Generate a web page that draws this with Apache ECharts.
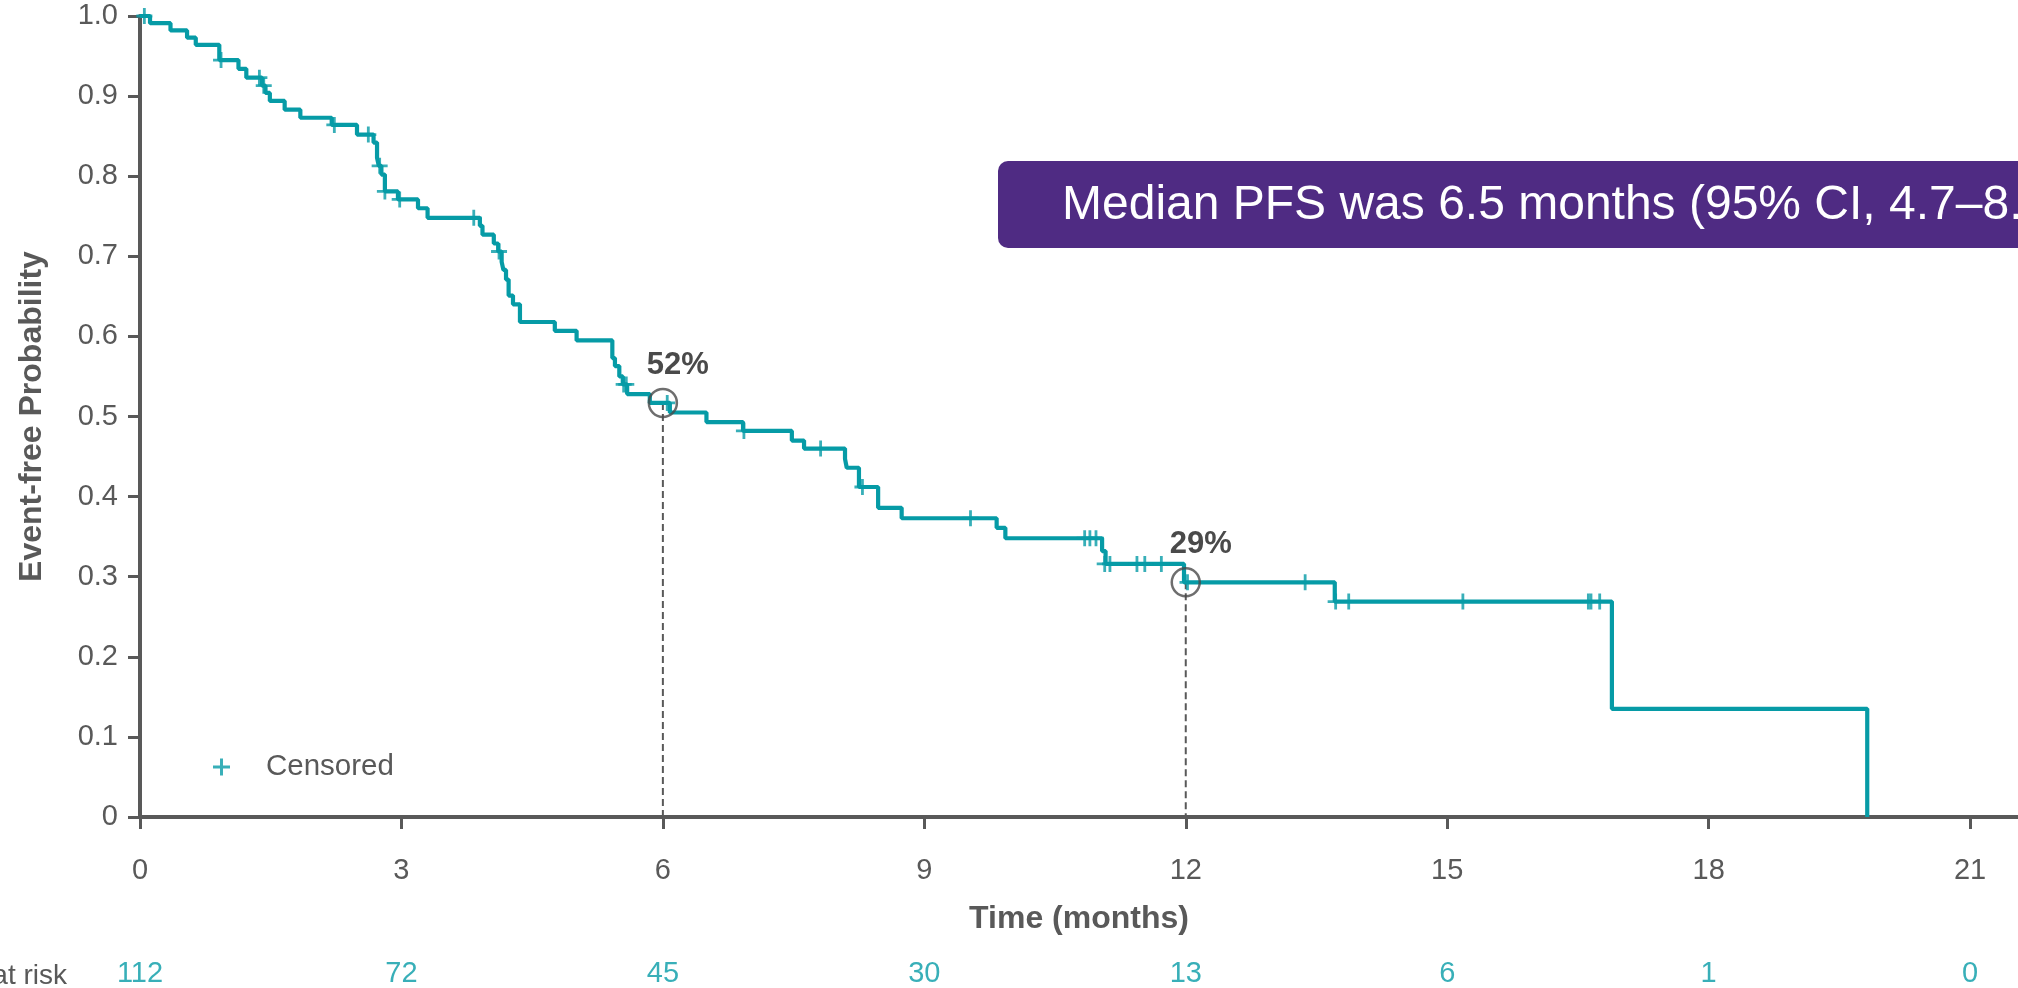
<!DOCTYPE html>
<html><head><meta charset="utf-8">
<script src="https://cdn.jsdelivr.net/npm/echarts@6/dist/echarts.min.js"></script>
<style>html,body{margin:0;padding:0;background:#fff}#c{width:2018px;height:988px}</style>
</head><body><div id="c"></div>
<script>
// Kaplan-Meier step points: time (months) and survival after the step
const eventTimes = [0, 0.115, 0.35, 0.54, 0.64, 0.91, 1.13, 1.22, 1.40, 1.44, 1.49, 1.66, 1.84, 2.20, 2.49, 2.68, 2.72, 2.74, 2.77, 2.81, 2.96, 3.19, 3.30, 3.90, 3.93, 4.06, 4.11, 4.15, 4.17, 4.20, 4.23, 4.28, 4.36, 4.76, 5.01, 5.42, 5.45, 5.50, 5.54, 5.59, 5.85, 6.08, 6.50, 6.92, 7.48, 7.62, 8.09, 8.11, 8.25, 8.47, 8.74, 9.83, 9.93, 11.04, 11.08, 11.98, 13.71, 16.89, 19.82];
const survival   = [1.0, 0.991, 0.982, 0.973, 0.964, 0.945, 0.934, 0.923, 0.913, 0.904, 0.894, 0.883, 0.873, 0.864, 0.852, 0.842, 0.823, 0.813, 0.802, 0.781, 0.771, 0.760, 0.748, 0.738, 0.727, 0.716, 0.706, 0.693, 0.683, 0.671, 0.651, 0.640, 0.618, 0.607, 0.595, 0.573, 0.563, 0.550, 0.540, 0.528, 0.517, 0.505, 0.493, 0.482, 0.470, 0.460, 0.447, 0.436, 0.412, 0.386, 0.373, 0.361, 0.348, 0.332, 0.316, 0.293, 0.269, 0.135, 0];
// Censored observations
const censorTimes = [0.05, 0.93, 1.37, 1.42, 2.23, 2.62, 2.75, 2.81, 2.98, 3.83, 4.12, 5.55, 5.58, 6.05, 6.93, 7.81, 8.29, 9.53, 10.84, 10.90, 10.97, 11.07, 11.13, 11.44, 11.53, 11.72, 12.02, 13.37, 13.72, 13.87, 15.18, 16.62, 16.65, 16.75];
const censorSurv  = [1.0, 0.945, 0.923, 0.913, 0.864, 0.852, 0.813, 0.781, 0.771, 0.748, 0.706, 0.540, 0.540, 0.517, 0.482, 0.460, 0.412, 0.373, 0.348, 0.348, 0.348, 0.316, 0.316, 0.316, 0.316, 0.316, 0.293, 0.293, 0.269, 0.269, 0.269, 0.269, 0.269, 0.269];
// Landmarks
const landmarkTimes = [6, 12];
const landmarkSurv = [0.517, 0.293];
const landmarkLabels = ['52%', '29%'];
// Axes
const xTicks = [0, 3, 6, 9, 12, 15, 18, 21];
const yTicks = [0, 0.1, 0.2, 0.3, 0.4, 0.5, 0.6, 0.7, 0.8, 0.9, 1.0];
const atRisk = [112, 72, 45, 30, 13, 6, 1, 0];

const TEAL = '#069ba6', GRAY = '#595959', PURPLE = '#4f2b83';
const FONT = '"Liberation Sans", Arial, sans-serif';
const PLUS = 'path://M-1.4,-8H1.4V-1.4H8V1.4H1.4V8H-1.4V1.4H-8V-1.4H-1.4Z';
const XMAX = 21.55;

const kmData = eventTimes.map((t, i) => [t, survival[i]]);
const censorData = censorTimes.map((t, i) => [t, censorSurv[i]]);

const dashSeries = landmarkTimes.map((t, i) => ({
  type: 'line', xAxisIndex: 0, yAxisIndex: 0, z: 1,
  data: [[t, landmarkSurv[i]], [t, 0]], showSymbol: false, silent: true,
  lineStyle: { color: GRAY, width: 2, type: [7, 4] }
}));

const chart = echarts.init(document.getElementById('c'), null, { renderer: 'canvas' });
chart.setOption({
  animation: false,
  backgroundColor: '#fff',
  textStyle: { fontFamily: FONT },
  grid: [
    { left: 140, right: 0, top: 16, bottom: 171, containLabel: false },
    { left: 140, right: 0, top: 959, height: 48, containLabel: false }
  ],
  xAxis: [{
    type: 'value', gridIndex: 0, min: 0, max: XMAX,
    axisLine: { show: true, onZero: false, lineStyle: { color: GRAY, width: 4 } },
    axisTick: { show: true, length: 12, customValues: xTicks, lineStyle: { color: GRAY, width: 3 } },
    axisLabel: { customValues: xTicks, color: GRAY, fontSize: 29, margin: 39, fontFamily: FONT },
    splitLine: { show: false },
    name: 'Time (months)', nameLocation: 'middle', nameGap: 86,
    nameTextStyle: { color: GRAY, fontSize: 32, fontWeight: 'bold', fontFamily: FONT }
  }, {
    type: 'value', gridIndex: 1, min: 0, max: XMAX, show: false
  }],
  yAxis: [{
    type: 'value', gridIndex: 0, min: 0, max: 1, interval: 0.1,
    axisLine: { show: true, lineStyle: { color: GRAY, width: 4 } },
    axisTick: { show: true, length: 12, lineStyle: { color: GRAY, width: 3 } },
    axisLabel: { color: GRAY, fontSize: 29, margin: 22, fontFamily: FONT,
      formatter: v => (Math.abs(v) < 1e-9 ? '0' : v.toFixed(1)) },
    splitLine: { show: false },
    name: 'Event-free Probability', nameLocation: 'middle', nameGap: 92, nameRotate: 90,
    nameTextStyle: { color: GRAY, fontSize: 32, fontWeight: 'bold', fontFamily: FONT }
  }, {
    type: 'value', gridIndex: 1, min: 0, max: 1, show: false
  }],
  legend: {
    data: [{ name: 'Censored', icon: PLUS }],
    left: 208, top: 747, itemWidth: 17, itemHeight: 17,
    itemStyle: { color: TEAL },
    textStyle: { color: GRAY, fontSize: 29.5, fontFamily: FONT, padding: [0, 0, 0, 31] }
  },
  series: [
    ...dashSeries,
    {
      name: 'KM', type: 'line', step: 'end', data: kmData, showSymbol: false, z: 2,
      lineStyle: { color: TEAL, width: 4.2 }, silent: true
    },
    {
      name: 'Censored', type: 'scatter', data: censorData, symbol: PLUS, symbolSize: 16, z: 3,
      itemStyle: { color: TEAL }, silent: true
    },
    {
      name: 'Landmark', type: 'scatter', z: 4, silent: true,
      data: landmarkTimes.map((t, i) => ({ value: [t, landmarkSurv[i]], label: { formatter: landmarkLabels[i] } })),
      symbol: 'circle', symbolSize: 28,
      itemStyle: { color: 'rgba(0,0,0,0)', borderColor: '#4a4a4a', borderWidth: 2.5 },
      label: { show: true, position: 'top', offset: [15, -2], color: '#4a4a4a', fontSize: 31, fontWeight: 'bold', fontFamily: FONT, opacity: 1 }
    },
    {
      name: 'AtRisk', type: 'scatter', xAxisIndex: 1, yAxisIndex: 1, silent: true,
      data: xTicks.map((t, i) => ({ value: [t, 0.5], label: { formatter: String(atRisk[i]) } })),
      symbolSize: 1, itemStyle: { color: 'rgba(0,0,0,0)' },
      label: { show: true, position: 'inside', color: TEAL, fontSize: 29, fontFamily: FONT }
    }
  ],
  graphic: [
    { type: 'rect', left: 998, top: 161, shape: { x: 0, y: 0, width: 1100, height: 87, r: 10 }, style: { fill: PURPLE }, z: 10 },
    { type: 'text', x: 1062, y: 206, z: 11,
      style: { text: 'Median PFS was 6.5 months (95% CI, 4.7–8.', fill: '#fff', font: '48px ' + FONT, verticalAlign: 'middle', align: 'left' } },
    { type: 'text', x: 67, y: 976, z: 11,
      style: { text: 'at risk', fill: GRAY, font: '28px ' + FONT, verticalAlign: 'middle', align: 'right' } }
  ]
});
</script></body></html>
